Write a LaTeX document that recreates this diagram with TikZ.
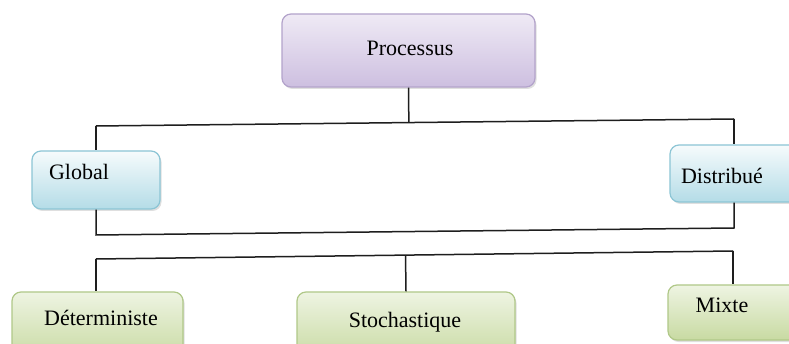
\documentclass[tikz,border=0pt]{standalone}
\usepackage{fontspec}
\setmainfont{Liberation Serif}
\usetikzlibrary{calc,shadows}
\definecolor{purpT}{HTML}{EFEAF5}
\definecolor{purpB}{HTML}{CDBFE0}
\definecolor{purpD}{HTML}{B3A3CB}
\definecolor{cyanT}{HTML}{F6FBFC}
\definecolor{cyanB}{HTML}{B4DCE7}
\definecolor{cyanD}{HTML}{8CC5D5}
\definecolor{grnT}{HTML}{EEF4E2}
\definecolor{grnB}{HTML}{C8DAA2}
\definecolor{grnD}{HTML}{B0C888}
\definecolor{linec}{HTML}{1E1E1E}
\tikzset{
  box/.style={rectangle, rounded corners=9pt, inner sep=0pt, line width=1.2pt,
    drop shadow={shadow xshift=1.5pt, shadow yshift=-2pt, opacity=0.25}},
  purpbox/.style={box, draw=purpD, top color=purpT, bottom color=purpB},
  cyanbox/.style={box, draw=cyanD, top color=cyanT, bottom color=cyanB},
  grnbox/.style={box, draw=grnD, top color=grnT, bottom color=grnB},
  lbl/.style={font=\fontsize{22}{26}\selectfont, text=black, inner sep=0pt},
  conn/.style={draw=linec, line width=1.5pt}
}
\begin{document}
\begin{tikzpicture}[x=1pt,y=-1pt]
\clip (0,0) rectangle (789,344);
\fill[white] (0,0) rectangle (789,344);
% connector coordinates
\coordinate (tl) at (96,126);
\coordinate (tr) at (734,119);
\coordinate (bl) at (96,235);
\coordinate (br) at (734,228);
\coordinate (ml) at (96,259);
\coordinate (mr) at (733,251);
% boxes
\node[purpbox, minimum width=253pt, minimum height=73pt] (proc) at (408.5,50.5) {};
\node[cyanbox, minimum width=128pt, minimum height=58pt] (glob) at (96,180) {};
\node[cyanbox, minimum width=130pt, minimum height=57pt] (dist) at (735,173.5) {};
\node[grnbox, minimum width=171pt, minimum height=68pt] (det) at (97.5,326) {};
\node[grnbox, minimum width=218pt, minimum height=68pt] (sto) at (406,326) {};
\node[grnbox, minimum width=132pt, minimum height=55pt] (mix) at (734,312.5) {};
% labels
\node[lbl] (tproc) at (410,48) {Processus};
\node[lbl] (tglob) at (79,172) {Global};
\node[lbl] (tdist) at (722,176) {Distribué};
\node[lbl] (tdet) at (101,318) {Déterministe};
\node[lbl] (tsto) at (405,322) {Stochastique};
\node[lbl] (tmix) at (722,305) {Mixte};
% connectors
\draw[conn] (proc.south) -- ($(tl)!(proc.south)!(tr)$);
\draw[conn] (tl) -- (tr);
\draw[conn] (tl) -- (glob.north -| tl);
\draw[conn] (tr) -- (dist.north -| tr);
\draw[conn] (glob.south -| bl) -- (bl) -- (br) -- (dist.south -| br);
\draw[conn] (ml) -- (mr);
\draw[conn] (ml) -- (det.north -| ml);
\draw[conn] ($(ml)!(sto.north)!(mr)$) -- (sto.north);
\draw[conn] (mr) -- (mix.north -| mr);
\end{tikzpicture}
\end{document}
